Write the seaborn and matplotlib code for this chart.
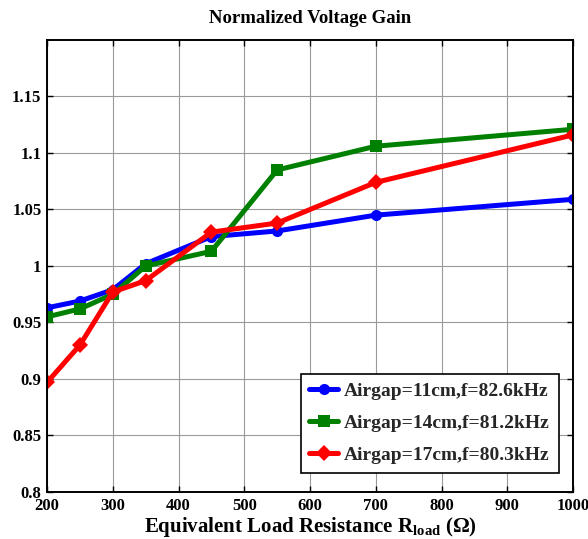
import matplotlib
matplotlib.use("Agg")
import matplotlib.pyplot as plt
import seaborn as sns
import pandas as pd
from matplotlib.ticker import FormatStrFormatter

# Equivalent load resistance (ohm)
r_load = [200, 250, 300, 350, 450, 550, 700, 1000]

# Normalized voltage gain for each airgap
gain_11cm = [0.963, 0.969, 0.979, 1.002, 1.026, 1.031, 1.045, 1.059]
gain_14cm = [0.955, 0.962, 0.975, 1.000, 1.013, 1.085, 1.106, 1.121]
gain_17cm = [0.897, 0.930, 0.977, 0.987, 1.030, 1.038, 1.074, 1.116]

series_labels = [
    "Airgap=11cm,f=82.6kHz",
    "Airgap=14cm,f=81.2kHz",
    "Airgap=17cm,f=80.3kHz",
]
x_ticks = [200, 300, 400, 500, 600, 700, 800, 900, 1000]
y_ticks = [0.8, 0.85, 0.9, 0.95, 1.0, 1.05, 1.1, 1.15]

sns.set_theme(style="white")
plt.rcParams["font.family"] = ["Liberation Serif", "DejaVu Serif"]
plt.rcParams["font.weight"] = "bold"
plt.rcParams["mathtext.fontset"] = "custom"
plt.rcParams["mathtext.rm"] = "Liberation Serif:bold"
plt.rcParams["mathtext.bf"] = "Liberation Serif:bold"
plt.rcParams["mathtext.it"] = "Liberation Serif:bold"

frames = []
for label, vals in zip(series_labels, [gain_11cm, gain_14cm, gain_17cm]):
    frames.append(pd.DataFrame({"R": r_load, "Gain": vals, "Series": label}))
df = pd.concat(frames, ignore_index=True)

fig = plt.figure(figsize=(5.88, 5.39), dpi=100)
ax = fig.add_axes([0.080, 0.0872, 0.8945, 0.8386])

palette = {series_labels[0]: "#0000ff",
           series_labels[1]: "#008000",
           series_labels[2]: "#ff0000"}
markers = {series_labels[0]: "o",
           series_labels[1]: "s",
           series_labels[2]: "D"}

sns.lineplot(data=df, x="R", y="Gain", hue="Series", style="Series",
             palette=palette, markers=markers, dashes=False,
             linewidth=3.6, markersize=8, markeredgewidth=0,
             ax=ax, legend=True)

ax.set_xlim(200, 1000)
ax.set_ylim(0.8, 1.2)
ax.set_xticks(x_ticks)
ax.set_yticks(y_ticks)
ax.yaxis.set_major_formatter(FormatStrFormatter("%g"))
ax.grid(True, color="#9a9a9a", linewidth=0.8, linestyle="-")
ax.set_axisbelow(True)

for side in ["left", "right", "top", "bottom"]:
    ax.spines[side].set_visible(True)
    ax.spines[side].set_color("black")
    ax.spines[side].set_linewidth(1.4)

ax.tick_params(direction="in", length=4, width=1, top=True, right=True,
               left=True, bottom=True, labelsize=12, pad=4, color="black")
for lab in ax.get_xticklabels() + ax.get_yticklabels():
    lab.set_fontweight("bold")
    lab.set_color("black")

ax.set_title("Normalized Voltage Gain", fontsize=13.5, fontweight="bold",
             pad=12, color="black")
ax.set_xlabel(r"Equivalent Load Resistance R$_{\mathbf{load}}$ ($\mathbf{\Omega}$)",
              fontsize=15, fontweight="bold", labelpad=1, color="black")
ax.set_ylabel("")

handles, labels = ax.get_legend_handles_labels()
leg = ax.legend(handles, labels, loc="lower right",
                bbox_to_anchor=(0.973, 0.042), fontsize=14,
                frameon=True, fancybox=False, framealpha=1,
                edgecolor="black", handlelength=1.5, handletextpad=0.3,
                labelspacing=0.75, borderpad=0.45, borderaxespad=0)
leg.get_frame().set_linewidth(1.2)
for t in leg.get_texts():
    t.set_fontweight("bold")

fig.savefig("out.png", dpi=100)
